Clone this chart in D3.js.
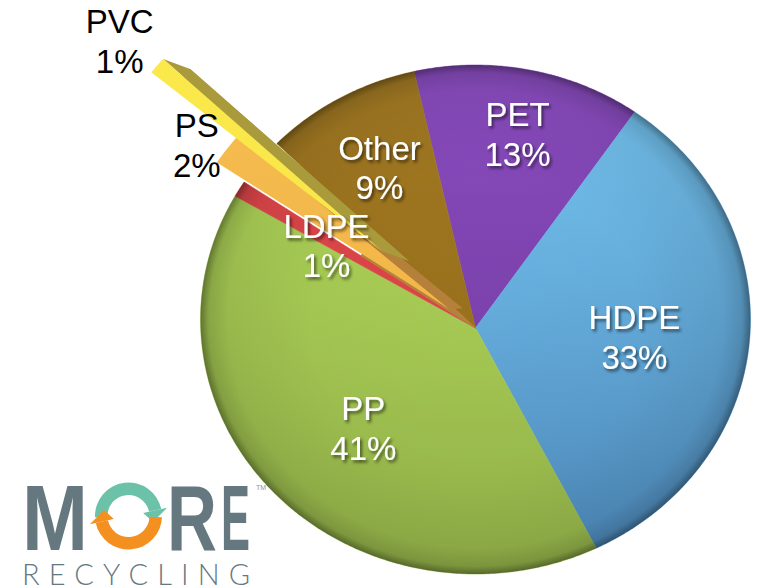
<!DOCTYPE html>
<html>
<head>
<meta charset="utf-8">
<script src="https://cdn.jsdelivr.net/npm/d3@7"></script>
<style>
  html, body { margin: 0; padding: 0; background: #ffffff; }
  svg { display: block; }
</style>
</head>
<body>
<svg id="chart" width="759" height="588"></svg>
<script>
// ---- data ----
const categories = ["PET", "HDPE", "PP", "LDPE", "PS", "PVC", "Other"];
const values = [13, 33, 41, 1, 2, 1, 9];
const valueLabels = ["13%", "33%", "41%", "1%", "2%", "1%", "9%"];

// ---- style / layout ----
const rim = { cx: 475.5, cy: 319.5, rx: 275, ry: 254.5 }; // outer rim ellipse
const persp = 8.5 / 254.5;                                 // centre shift (perspective)
const sq = Math.sqrt(1 - persp * persp);
const startDeg = -12.5;
const styles = {
  PET:   { top: "#8d4ec4", bot: "#6a3494", labelR: 0.779, dA: 0.4,  text: "#ffffff" },
  HDPE:  { top: "#79cbf8", bot: "#4d89bb", labelR: 0.579, dA: -0.2, text: "#ffffff" },
  PP:    { top: "#b5dd5c", bot: "#95b44a", labelR: 0.565, dA: -0.7, text: "#ffffff" },
  LDPE:  { top: "#e4494c", bot: "#d23f42", labelR: 0.632, dA: -1.5, text: "#ffffff" },
  PS:    { top: "#f6bd50", bot: "#eeae40", side: "#b5813a", explode: 0.12, scale: 1.0,  rot: 0,    sideOff: [13, -1], labelR: 1.243, dA: -2.5, text: "#000000" },
  PVC:   { top: "#fbe94c", bot: "#f4df3e", side: "#a99a3c", explode: 0.45, scale: 1.05, rot: -1.6, sideOff: [27, 10], labelR: 1.717, dA: -2.2, text: "#000000" },
  Other: { top: "#a67d24", bot: "#8c6314", labelR: 0.7226, dA: -0.2, text: "#ffffff" }
};

const svg = d3.select("#chart");
const defs = svg.append("defs");

const f = defs.append("filter").attr("id", "tshadow")
  .attr("x", "-20%").attr("y", "-20%").attr("width", "140%").attr("height", "140%");
f.append("feDropShadow").attr("dx", 2).attr("dy", 2.5).attr("stdDeviation", 1.8)
  .attr("flood-color", "#000").attr("flood-opacity", 0.55);

categories.forEach(c => {
  const g = defs.append("linearGradient").attr("id", "g-" + c)
    .attr("gradientUnits", "userSpaceOnUse")
    .attr("x1", 0).attr("y1", rim.cy - rim.ry).attr("x2", 0).attr("y2", rim.cy + rim.ry);
  g.append("stop").attr("offset", 0).attr("stop-color", styles[c].top);
  g.append("stop").attr("offset", 1).attr("stop-color", styles[c].bot);
});
const rg = defs.append("radialGradient").attr("id", "edge")
  .attr("gradientUnits", "userSpaceOnUse")
  .attr("cx", 0).attr("cy", 0).attr("r", 1).attr("fx", 0).attr("fy", 0)
  .attr("gradientTransform", `translate(${rim.cx},${rim.cy}) scale(${rim.rx},${rim.ry})`);
[[0, 0], [0.6, 0.02], [0.9, 0.08], [0.97, 0.18], [1, 0.42]].forEach(([o, a]) =>
  rg.append("stop").attr("offset", o).attr("stop-color", "#000").attr("stop-opacity", a));

// projective map of the unit pie plane (u right, v down) onto the screen
function proj(u, v) {
  const w = 1 + persp * v;
  return [rim.cx + rim.rx * sq * u / w, rim.cy + rim.ry * (v + persp) / w];
}
const apex = proj(0, 0);

function slicePoints(d, extra, plain) {
  const st = plain ? {} : styles[d.data.cat];
  const rot = (st.rot || 0) * Math.PI / 180;
  const sc = plain ? plain : (st.scale || 1), e = st.explode || 0;
  const m = (d.startAngle + d.endAngle) / 2 + rot;
  const a0 = d.startAngle + rot, a1 = d.endAngle + rot;
  const ou = Math.sin(m) * e, ov = -Math.cos(m) * e;
  const off = extra || [0, 0];
  const P = (u, v) => { const p = proj(u, v); return [p[0] + off[0], p[1] + off[1]]; };
  const pts = [P(ou, ov)];
  const n = Math.max(2, Math.ceil((a1 - a0) / 0.01));
  for (let i = 0; i <= n; i++) {
    const a = a0 + (a1 - a0) * i / n;
    pts.push(P(ou + sc * Math.sin(a), ov - sc * Math.cos(a)));
  }
  return pts;
}
const line = d3.line().curve(d3.curveLinearClosed);

const data = categories.map((c, i) => ({ cat: c, value: values[i], label: valueLabels[i] }));
const s0 = startDeg * Math.PI / 180;
const arcs = d3.pie().sort(null).value(d => d.value).startAngle(s0).endAngle(s0 + 2 * Math.PI)(data);
const mid = d => (d.startAngle + d.endAngle) / 2;

const main = arcs.filter(d => !styles[d.data.cat].explode);
const exploded = arcs.filter(d => styles[d.data.cat].explode);

svg.append("g").selectAll("path").data(main).join("path")
  .attr("d", d => line(slicePoints(d)))
  .attr("fill", d => `url(#g-${d.data.cat})`)
  .attr("stroke", d => `url(#g-${d.data.cat})`).attr("stroke-width", 0.6);
svg.append("g").selectAll("path").data(main).join("path")
  .attr("d", d => line(slicePoints(d)))
  .attr("fill", "url(#edge)");

// inner part of the emptied slots (seen as the side wall near the centre)
svg.append("g").selectAll("path").data(exploded).join("path")
  .attr("d", d => line(slicePoints(d, [0, 0], 0.5)))
  .attr("fill", d => styles.PS.side)
  .attr("stroke", d => styles.PS.side).attr("stroke-width", 1);

// exploded slices: side face (shifted copy + connecting band) then top face
const ex = svg.append("g").selectAll("g").data(exploded).join("g");
ex.append("path")
  .attr("d", d => line(slicePoints(d, styles[d.data.cat].sideOff)))
  .attr("fill", d => styles[d.data.cat].side);
ex.append("path")
  .attr("d", d => {
    const top = slicePoints(d), s = styles[d.data.cat].sideOff;
    const p1 = top[0], p2 = top[top.length - 1];
    return line([p1, p2, [p2[0] + s[0], p2[1] + s[1]], [p1[0] + s[0], p1[1] + s[1]]]);
  })
  .attr("fill", d => styles[d.data.cat].side);
ex.append("path")
  .attr("d", d => line(slicePoints(d)))
  .attr("fill", d => `url(#g-${d.data.cat})`);

// labels
const labelG = svg.append("g")
  .style("font-family", "'Liberation Sans', Arial, Helvetica, sans-serif")
  .style("font-size", "33px");
arcs.forEach(d => {
  const st = styles[d.data.cat];
  const a = mid(d) + st.dA * Math.PI / 180;
  const x = apex[0] + rim.rx * st.labelR * Math.sin(a);
  const y = apex[1] - rim.ry * st.labelR * Math.cos(a);
  const t = labelG.append("text").attr("text-anchor", "middle").attr("fill", st.text);
  if (st.text === "#ffffff") t.attr("filter", "url(#tshadow)");
  t.append("tspan").attr("x", x).attr("y", y - 7.5).text(d.data.cat);
  t.append("tspan").attr("x", x).attr("y", y + 32).text(d.data.label);
});

// ---- logo ----
const logo = svg.append("g");
const gray = "#66787f";
const lf = "'Liberation Sans', Arial, sans-serif";
[["M", 22, 66], ["R", 167, 50], ["E", 221, 29]].forEach(([ch, x, w]) => {
  logo.append("text").attr("x", x).attr("y", 550).text(ch)
    .attr("fill", gray).style("font-family", lf).style("font-weight", 700)
    .style("font-size", "93px")
    .attr("textLength", w).attr("lengthAdjust", "spacingAndGlyphs");
});
const oc = { x: 128.5, y: 516 }, rIn = 21, rOut = 33.5;
const ring = d3.arc().innerRadius(rIn).outerRadius(rOut);
const deg = Math.PI / 180;
function arrow(a0, a1, color) {
  logo.append("path").attr("transform", `translate(${oc.x},${oc.y})`)
    .attr("d", ring({ startAngle: a0 * deg, endAngle: a1 * deg })).attr("fill", color);
  const rm = (rIn + rOut) / 2;
  const p = (a, r) => [Math.sin(a * deg) * r + oc.x, -Math.cos(a * deg) * r + oc.y];
  logo.append("path").attr("d", line([p(a1, rIn - 6), p(a1, rOut + 6), p(a1 + 26, rm - 2)]))
    .attr("fill", color);
}
arrow(-92, 78, "#6cc2a9");
arrow(92, 258, "#f39020");
logo.append("text").attr("x", 256).attr("y", 490).text("TM")
  .attr("fill", "#8a979c").style("font-family", lf).style("font-size", "7px");
logo.append("text").attr("x", 22).attr("y", 585).text("RECYCLING")
  .attr("fill", gray).style("font-family", "Lato, 'Open Sans', sans-serif").style("font-weight", 300)
  .style("font-size", "29px")
  .attr("textLength", 228).attr("lengthAdjust", "spacing");
</script>
</body>
</html>
